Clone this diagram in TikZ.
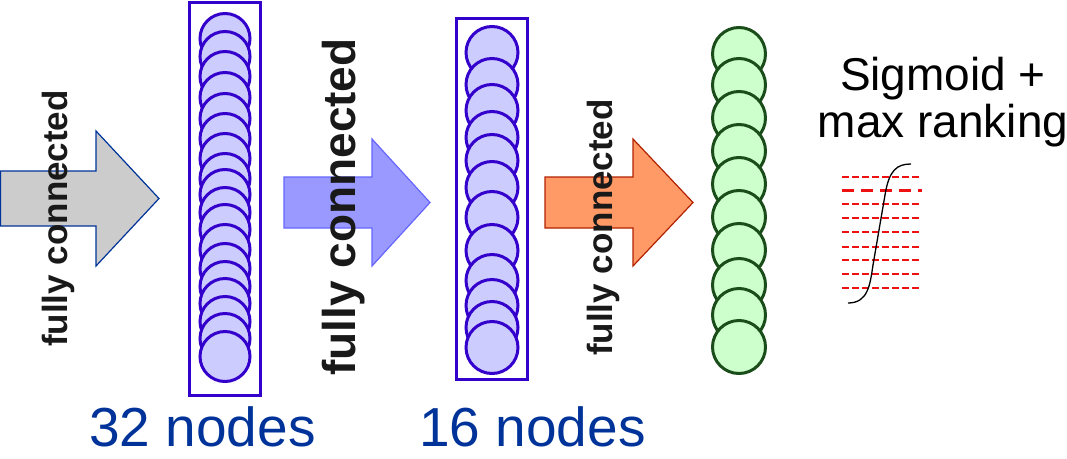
\documentclass[tikz,border=0pt]{standalone}
\usepackage{fontspec}
\setmainfont{Liberation Sans}
\usetikzlibrary{positioning}

\definecolor{layerline}{HTML}{3300CC}
\definecolor{layerfill}{HTML}{CCCCFF}
\definecolor{outline}{HTML}{1A4D1A}
\definecolor{outfill}{HTML}{CCFFCC}
\definecolor{labelblue}{HTML}{003399}
\definecolor{sigred}{HTML}{EE1111}
\definecolor{midfill}{HTML}{9999FF}
\definecolor{midline}{HTML}{6666FF}
\definecolor{lastfill}{HTML}{FF9966}
\definecolor{lastline}{HTML}{B22200}

\begin{document}
\begin{tikzpicture}[x=1pt,y=-1pt,
  ball/.style={circle,inner sep=0pt,line width=3pt},
  hidball/.style={ball,draw=layerline,fill=layerfill},
  outball/.style={ball,draw=outline,fill=outfill,minimum size=53pt},
  fctext/.style={rotate=90,anchor=base,inner sep=0pt,text=black!90,font=\bfseries},
  sizetext/.style={anchor=base,inner sep=0pt,text=labelblue,font=\fontsize{55}{60}\selectfont}]
  \useasboundingbox (0,0) rectangle (1067,458);

  % input arrow
  \draw[fill=black!20,draw=labelblue,line width=1.2pt] (0.6,171) -- (96,171) -- (96,131) -- (159,198.5)
      -- (96,266) -- (96,226) -- (0.6,226) -- cycle;
  \node[fctext,font=\bfseries\fontsize{35}{40}\selectfont] (fc1) at (67,218.5) {fully connected};

  % first hidden layer, 32 nodes
  \draw[layerline,line width=3pt] (189.5,2.5) rectangle (260.5,395.5);
  \foreach \y [count=\i] in {12,30,50,71,92,112,132,152,168,186,203,223,242,260,277,295,312,330}
    \node[hidball,minimum size=50pt] (h\i) at (225,\y+26.5) {};
  \node[sizetext] (n32) at (202.5,446) {32 nodes};

  % second arrow
  \draw[fill=midfill,draw=midline,line width=1.2pt] (284,177) -- (372,177) -- (372,139) -- (430,202.5)
      -- (372,266) -- (372,228) -- (284,228) -- cycle;
  \node[fctext,font=\bfseries\fontsize{46}{50}\selectfont] (fc2) at (355,207) {fully connected};

  % second hidden layer, 16 nodes
  \draw[layerline,line width=3pt] (456.5,18.5) rectangle (527.5,379.5);
  \foreach \y [count=\i] in {25,57,83,110,133,160,190,223,253,278,300,320}
    \node[hidball,minimum size=52pt] (k\i) at (492,\y+27.5) {};
  \node[sizetext] (n16) at (532.5,446) {16 nodes};

  % third arrow
  \draw[fill=lastfill,draw=lastline,line width=1.2pt] (545,177) -- (633,177) -- (633,139) -- (693,202.5)
      -- (633,266) -- (633,228) -- (545,228) -- cycle;
  \node[fctext,font=\bfseries\fontsize{35}{40}\selectfont] (fc3) at (612,227.5) {fully connected};

  % output layer
  \foreach \y [count=\i] in {26,57,90,123,156,189,222,257,287,319}
    \node[outball] (o\i) at (739,\y+28) {};

  % sigmoid + ranking
  \node[anchor=base,inner sep=0pt,align=center,font=\fontsize{46}{47}\selectfont] (sig) at (943,137)
      {Sigmoid +\\max ranking};
  \foreach \y in {177,204,218,232,247,260,274,288}
    \draw[sigred,line width=1.3pt,dash pattern=on 7pt off 3pt] (842,\y) -- (922,\y);
  \draw[sigred,line width=3pt,dash pattern=on 12pt off 7pt] (842,190) -- (922,190);
  \draw[black,line width=1.3pt] (848,303) .. controls (868,303) and (870,285) .. (873,265) -- (885,195)
      .. controls (889,170) and (897,164) .. (911,164);
\end{tikzpicture}
\end{document}
